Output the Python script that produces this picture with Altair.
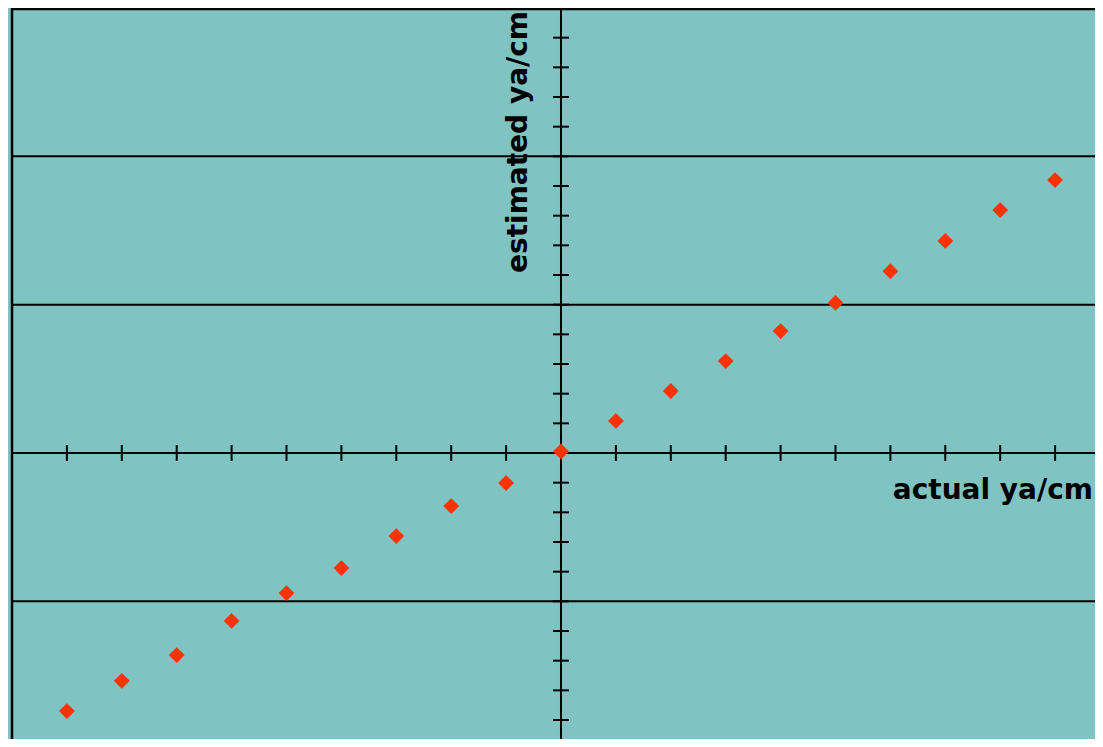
import altair as alt
import pandas as pd

# ---- data ----
actual = [-9, -8, -7, -6, -5, -4, -3, -2, -1, 0, 1, 2, 3, 4, 5, 6, 7, 8, 9]
estimated = [-8.70, -7.68, -6.81, -5.66, -4.72, -3.88, -2.80, -1.79, -1.01, 0.05,
             1.08, 2.09, 3.10, 4.11, 5.06, 6.13, 7.15, 8.19, 9.20]
grid_y = [-5, 5, 10]
top_y = [15]
x_ticks = [v for v in range(-9, 10) if v != 0]
y_ticks = [v for v in range(-9, 15) if v != 0]

X_DOMAIN = [-10, 9.727]
Y_DOMAIN = [-9.64, 15.0]
TEAL = "#80C3C3"
RED = "#FF3300"

xs = alt.Scale(domain=X_DOMAIN, nice=False, zero=False)
ys = alt.Scale(domain=Y_DOMAIN, nice=False, zero=False)

points_df = pd.DataFrame({"actual": actual, "estimated": estimated})
grid_df = pd.DataFrame({"y": grid_y})
top_df = pd.DataFrame({"y": top_y})
xt_df = pd.DataFrame({"x": x_ticks, "y1": [-0.27] * len(x_ticks), "y2": [0.27] * len(x_ticks)})
yt_df = pd.DataFrame({"y": y_ticks, "x1": [-0.146] * len(y_ticks), "x2": [0.146] * len(y_ticks)})
zero_df = pd.DataFrame({"v": [0]})
left_df = pd.DataFrame({"x": [-10]})

grid = alt.Chart(grid_df).mark_rule(color="black", strokeWidth=2).encode(
    y=alt.Y("y:Q", scale=ys, axis=None)
)
top_border = alt.Chart(top_df).mark_rule(color="black", strokeWidth=4.5).encode(
    y=alt.Y("y:Q", scale=ys, axis=None)
)
left_border = alt.Chart(left_df).mark_rule(color="black", strokeWidth=2.5).encode(
    x=alt.X("x:Q", scale=xs, axis=None)
)
x_axis = alt.Chart(zero_df).mark_rule(color="black", strokeWidth=2).encode(
    y=alt.Y("v:Q", scale=ys, axis=None)
)
y_axis = alt.Chart(zero_df).mark_rule(color="black", strokeWidth=2).encode(
    x=alt.X("v:Q", scale=xs, axis=None)
)
x_tick_marks = alt.Chart(xt_df).mark_rule(color="black", strokeWidth=2).encode(
    x=alt.X("x:Q", scale=xs, axis=None),
    y=alt.Y("y1:Q", scale=ys, axis=None),
    y2="y2:Q",
)
y_tick_marks = alt.Chart(yt_df).mark_rule(color="black", strokeWidth=2).encode(
    y=alt.Y("y:Q", scale=ys, axis=None),
    x=alt.X("x1:Q", scale=xs, axis=None),
    x2="x2:Q",
)
points = alt.Chart(points_df).mark_point(
    shape="diamond", filled=True, size=250, color=RED, opacity=1
).encode(
    x=alt.X("actual:Q", scale=xs, axis=None),
    y=alt.Y("estimated:Q", scale=ys, axis=None),
)

xlab_df = pd.DataFrame({"x": [9.69], "y": [-1.55], "t": ["actual ya/cm"]})
ylab_df = pd.DataFrame({"x": [-0.62], "y": [14.9], "t": ["estimated ya/cm"]})

x_title = alt.Chart(xlab_df).mark_text(
    font="DejaVu Sans", fontWeight="bold", fontSize=28, align="right",
    baseline="alphabetic", color="black"
).encode(
    x=alt.X("x:Q", scale=xs, axis=None),
    y=alt.Y("y:Q", scale=ys, axis=None),
    text="t:N",
)
y_title = alt.Chart(ylab_df).mark_text(
    font="DejaVu Sans", fontWeight="bold", fontSize=28, align="right",
    baseline="alphabetic", angle=270, color="black"
).encode(
    x=alt.X("x:Q", scale=xs, axis=None),
    y=alt.Y("y:Q", scale=ys, axis=None),
    text="t:N",
)

chart = alt.layer(
    grid, top_border, left_border, x_axis, y_axis, x_tick_marks, y_tick_marks,
    points, x_title, y_title
).properties(
    width=1083,
    height=731,
    background=TEAL,
    padding={"left": 4, "top": 0, "right": 0, "bottom": 0},
    autosize=alt.AutoSizeParams(type="none"),
).configure_view(
    fill=TEAL, strokeOpacity=0
)

chart.save("out.html", embed_options={"renderer": "svg", "actions": False})
